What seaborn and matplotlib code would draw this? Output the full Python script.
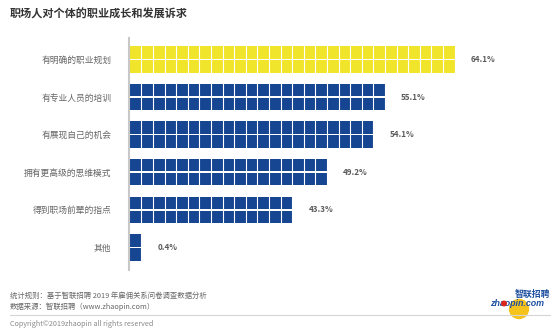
import numpy as np
import pandas as pd
import matplotlib
matplotlib.use("Agg")
import matplotlib.pyplot as plt
from matplotlib.patches import Ellipse
from matplotlib.lines import Line2D
import seaborn as sns

# ---- data ----
categories = ["有明确的职业规划", "有专业人员的培训", "有展现自己的机会",
              "拥有更高级的思维模式", "得到职场前辈的指点", "其他"]
values = [64.1, 55.1, 54.1, 49.2, 43.3, 0.4]
square_counts = [28, 22, 21, 17, 14, 1]          # number of squares per row
value_labels = ["64.1%", "55.1%", "54.1%", "49.2%", "43.3%", "0.4%"]
title = "职场人对个体的职业成长和发展诉求"
footer_lines = ["统计规则：基于智联招聘 2019 年雇佣关系问卷调查数据分析",
                "数据来源：智联招聘（www.zhaopin.com）"]
copyright_text = "Copyright©2019zhaopin all rights reserved"

YELLOW = "#F1E52B"
BLUE = "#164592"
bar_colors = [YELLOW] + [BLUE] * 5

sns.set_theme(style="white")
plt.rcParams['font.family'] = ['Noto Sans CJK SC', 'DejaVu Sans']

W, H = 554, 331
fig = plt.figure(figsize=(W / 100, H / 100), dpi=100)
fig.patch.set_facecolor("white")

# axes geometry (pixels)
pitch_x = 11.6
xlo, xhi = -0.13, 36.0
ax_left = 130.3 + xlo * pitch_x
ax_w = (xhi - xlo) * pitch_x
ax_top, ax_bot = 38, 270
ax = fig.add_axes([ax_left / W, 1 - ax_bot / H, ax_w / W, (ax_bot - ax_top) / H])

# long table: two sub-rows of squares per category
rows = []
for c, n in zip(categories, square_counts):
    for r in ("a", "b"):
        rows.append({"cat": c, "row": r, "count": n})
df = pd.DataFrame(rows)

sns.barplot(data=df, x="count", y="cat", hue="row", orient="h", dodge=True,
            width=0.745, gap=0.12, palette=[BLUE, BLUE], saturation=1,
            errorbar=None, legend=False, ax=ax, linewidth=0)

for p in ax.patches:
    cy = p.get_y() + p.get_height() / 2
    idx = int(round(cy))
    p.set_facecolor(bar_colors[idx])
    p.set_edgecolor("none")

# white gaps splitting bars into squares
sq_w = 0.905
gap = 1 - sq_w
ax.vlines(np.arange(1, max(square_counts) + 1) - gap / 2, -1, 7,
          colors="white", linewidth=gap * pitch_x * 0.72, zorder=3)

ax.set_xlim(xlo, xhi)
ax.set_ylim(5.6, -0.57)

for i, (n, lab) in enumerate(zip(square_counts, value_labels)):
    ax.text(n - gap + 1.45, i, lab, ha="left", va="center", fontsize=5.8,
            color="#5a5a5a", fontweight="bold", zorder=5)

for s in ["top", "right", "bottom"]:
    ax.spines[s].set_visible(False)
ax.spines["left"].set_color("#c8c8c8")
ax.spines["left"].set_linewidth(1.5)
ax.set_xticks([])
ax.set_xlabel("")
ax.set_ylabel("")
ax.tick_params(axis="y", length=0, pad=12.5, labelsize=6.3, labelcolor="#666666")

# title
fig.text(10 / W, 1 - 14 / H, title, ha="left", va="center", fontsize=8,
         color="#333333", fontweight="bold")

# footer
fig.text(10 / W, 1 - 295.7 / H, footer_lines[0], ha="left", va="center",
         fontsize=5.3, color="#666666")
fig.text(10 / W, 1 - 306.7 / H, footer_lines[1], ha="left", va="center",
         fontsize=5.3, color="#666666")
fig.add_artist(Line2D([10 / W, 550 / W], [1 - 314.5 / H, 1 - 314.5 / H],
                      transform=fig.transFigure, color="#d5d5d5", linewidth=0.8))
fig.text(10 / W, 1 - 324.5 / H, copyright_text, ha="left", va="center",
         fontsize=5.2, color="#8a8a8a")

# logo
fig.add_artist(Ellipse((519 / W, 1 - 309 / H), 19 / W, 19 / H,
                       transform=fig.transFigure, color="#F6C21C", zorder=1))
fig.text(490 / W, 1 - 303.5 / H, "zhaopin.com", ha="left", va="center",
         fontsize=6.4, color="#1E4FA0", fontweight="bold", style="italic",
         family=["Liberation Sans", "DejaVu Sans"], zorder=3)
fig.add_artist(Ellipse((504 / W, 1 - 303.5 / H), 4.5 / W, 4.5 / H,
                       transform=fig.transFigure, color="#D9251C", zorder=4))
fig.text(532 / W, 1 - 294 / H, "智联招聘", ha="center", va="center",
         fontsize=6.4, color="#1E4FA0", fontweight="bold", style="italic", zorder=3)

fig.savefig("out.png", dpi=100, facecolor="white")
